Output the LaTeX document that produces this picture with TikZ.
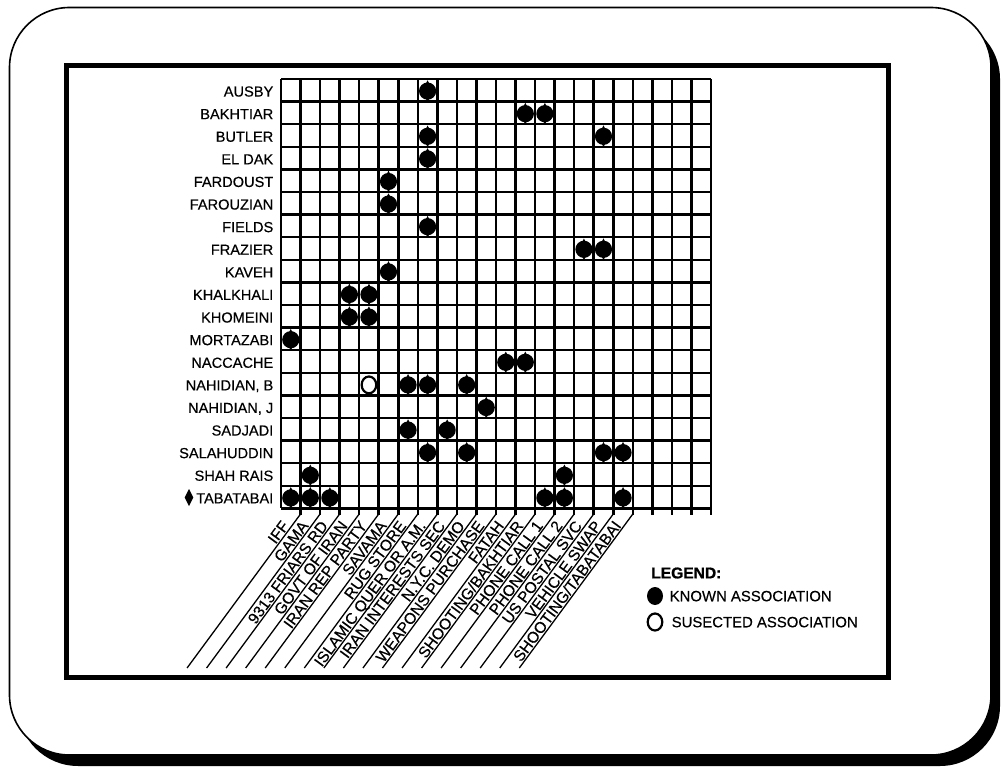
\documentclass[tikz,border=0pt]{standalone}
\usepackage{fontspec}
\setmainfont{Liberation Sans}[FakeBold=0.9]
\newfontfamily\labelfont{Liberation Sans}[FakeBold=0.35]
\begin{document}
\begin{tikzpicture}[x=1pt,y=-1pt,
  lbl/.style={font=\labelfont\fontsize{14.6}{16}\selectfont, inner sep=0pt, text height=10.5pt, text depth=0pt},
  collbl/.style={lbl, font=\labelfont\fontsize{15.6}{17}\selectfont, text height=11.2pt},
  gridline/.style={line width=2.5pt},
  slant/.style={line width=1.3pt},
  known/.pic={\fill (0,0) circle (8.6pt);
              \fill (0,-10.8) -- (5.6,0) -- (0,10.8) -- (-5.6,0) -- cycle;},
  suspected/.pic={\draw[line width=2.2pt, fill=white] (0,0) ellipse (7.3pt and 8.4pt);}
]
\useasboundingbox (0,0) rectangle (1001,767);

% card with its drop shadow
\fill[black, rounded corners=60pt] (18,19) rectangle (1000,766);
\draw[line width=1.6pt, fill=white, rounded corners=60pt] (9.5,7.5) rectangle (991,755);

% chart frame
\draw[line width=5pt] (66,65.5) rectangle (888,677.5);

% matrix grid: 22 columns, 19 rows
\foreach \k in {0,...,22}
  \draw[gridline] ({281+19.545*\k},79) -- ({281+19.545*\k},508.4);
\foreach \r in {0,...,19}
  \draw[gridline] (281,{79+22.6*\r}) -- (711,{79+22.6*\r});
\foreach \k in {1,...,22}
  \draw[gridline] ({281+19.545*\k},508.4) -- ({281+19.545*\k},515);

% slanted leader lines under the column headings
\foreach \k in {1,...,18}
  \draw[slant] ({281+19.545*\k},514) -- ({281+19.545*\k-113.5},668);

% column headings, each resting on the leader to its right
\foreach \lab [count=\k] in {IFF,GAMA,9313 FRIARS RD,GOVT OF IRAN,IRAN REP PARTY,SAVAMA,RUG STORE,ISLAMIC QUER OR A.M.,IRAN INTERESTS SEC,N.Y.C. DEMO,WEAPONS PURCHASE,FATAH,SHOOTING/BAKHTIAR,PHONE CALL 1,PHONE CALL 2,US POSTAL SVC,VEHICLE SWAP,SHOOTING/TABATABAI}{
  \pgfmathsetmacro{\tx}{281+19.545*\k-0.5934*16-0.8049*1.5}
  \pgfmathsetmacro{\ty}{514+0.8049*16-0.5934*1.5}
  \node[collbl, rotate=53.6, anchor=south east] (col\k) at (\tx,\ty) {\lab};
}

% row headings
\foreach \name [count=\r from 0] in {AUSBY,BAKHTIAR,BUTLER,EL DAK,FARDOUST,FAROUZIAN,FIELDS,FRAZIER,KAVEH,KHALKHALI,KHOMEINI,MORTAZABI,NACCACHE,{NAHIDIAN, B},{NAHIDIAN, J},SADJADI,SALAHUDDIN,SHAH RAIS,TABATABAI}
  \node[lbl, anchor=east] (row\r) at (273.5,{79+22.6*(\r+0.5)+1}) {\name};
\fill (189,489) -- (193.3,497.5) -- (189,506) -- (184.7,497.5) -- cycle;

% known associations (column/row)
\foreach \c/\r in {7/0, 12/1,13/1, 7/2,16/2, 7/3, 5/4, 5/5, 7/6, 15/7,16/7, 5/8,
  3/9,4/9, 3/10,4/10, 0/11, 11/12,12/12, 6/13,7/13,9/13, 10/14, 6/15,8/15,
  7/16,9/16,16/16,17/16, 1/17,14/17, 0/18,1/18,2/18,13/18,14/18,17/18}
  \pic at ({281+19.545*(\c+0.5)},{79+22.6*(\r+0.5)+0.8}) {known};
% suspected association
\pic at ({281+19.545*4.5},{79+22.6*13.5+0.8}) {suspected};

% legend
\node[font=\fontsize{15.6}{17}\selectfont\bfseries, anchor=west, inner sep=0pt] (leg) at (651,573) {LEGEND:};
\fill (655,596) ellipse (8pt and 9pt);
\node[lbl, font=\labelfont\fontsize{14.9}{16}\selectfont, anchor=west] (legk) at (669.5,596) {KNOWN ASSOCIATION};
\draw[line width=2.2pt] (655,622) ellipse (7.3pt and 8.5pt);
\node[lbl, font=\labelfont\fontsize{14.9}{16}\selectfont, anchor=west] (legs) at (671.5,622) {SUSECTED ASSOCIATION};
\end{tikzpicture}
\end{document}
